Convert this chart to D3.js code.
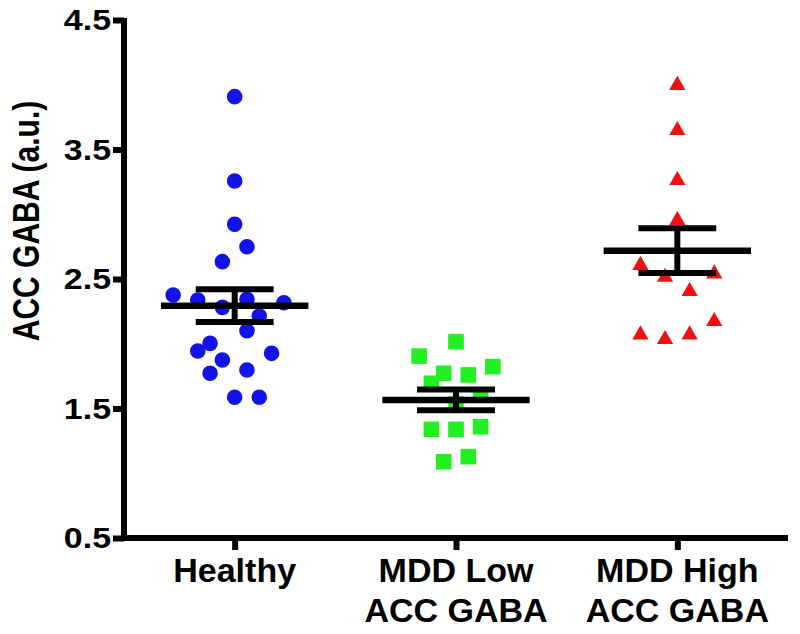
<!DOCTYPE html>
<html>
<head>
<meta charset="utf-8">
<script src="https://cdn.jsdelivr.net/npm/d3@7"></script>
<style>
  html, body { margin: 0; padding: 0; background: #fff; }
  svg { display: block; }
  text { font-family: "Liberation Sans", Arial, Helvetica, sans-serif; font-weight: bold; fill: #000; }
</style>
</head>
<body>
<svg id="chart" width="800" height="634"></svg>
<script>
// ---------------- data ----------------
const categories = ["Healthy", "MDD Low ACC GABA", "MDD High ACC GABA"];
const categoryLines = [["Healthy"], ["MDD Low", "ACC GABA"], ["MDD High", "ACC GABA"]];

const healthyValues = [3.908, 3.257, 2.922, 2.749, 2.634, 2.376, 2.338, 2.343, 2.317, 2.281,
                       2.214, 2.101, 2.003, 1.944, 1.875, 1.926, 1.772, 1.797, 1.587, 1.587];
const healthySlots  = [0, 0, 0, 1, -1, -5, -3, 1, 4, -1,
                       2, 1, -2, -3, -1, 3, -2, 1, 0, 2];

const lowValues = [2.016, 1.905, 1.823, 1.772, 1.759, 1.695, 1.604, 1.535, 1.339, 1.339, 1.359, 1.089, 1.128];
const lowSlots  = [0, -3, 3, -1, 1, -2, 2, 0, -2, 0, 2, -1, 1];

const highValues = [3.996, 3.648, 3.262, 2.953, 2.606, 2.515, 2.541, 2.405, 2.173, 2.070, 2.034, 2.070];
const highSlots  = [0, 0, 0, 0, -3, -1, 3, 1, 3, -3, -1, 1];

const groupMeans = [2.294, 1.566, 2.719];
const groupSEM   = [0.127, 0.080, 0.173];

const yTickValues = [0.5, 1.5, 2.5, 3.5, 4.5];
const yTickLabels = ["0.5", "1.5", "2.5", "3.5", "4.5"];
const yLabel = "ACC GABA (a.u.)";

// ---------------- layout ----------------
const svg = d3.select("#chart");
const plotLeft = 124, plotRight = 788, plotTop = 20, plotBottom = 538;

const y = d3.scaleLinear().domain([0.5, 4.5]).range([plotBottom, plotTop]);
const x = d3.scalePoint().domain(categories).range([plotLeft, plotRight]).padding(0.5);

const slotWidth = 12.3;
const groups = [
  { cat: categories[0], values: healthyValues, slots: healthySlots, color: "#1212ea", symbol: d3.symbolCircle, size: Math.PI * 7.8 * 7.8 },
  { cat: categories[1], values: lowValues, slots: lowSlots, color: "#22f022", symbol: d3.symbolSquare, size: 15.6 * 15.6 },
  { cat: categories[2], values: highValues, slots: highSlots, color: "#ee1111", symbol: d3.symbolTriangle, size: 115 }
];

// points
groups.forEach(g => {
  const pts = g.values.map((v, i) => ({ v, s: g.slots[i] }));
  svg.append("g").selectAll("path").data(pts).join("path")
    .attr("d", d3.symbol().type(g.symbol).size(g.size))
    .attr("transform", d => `translate(${x(g.cat) + d.s * slotWidth},${y(d.v)})`)
    .attr("fill", g.color);
});

// mean +/- SEM
const step = x.step();
const eb = svg.append("g").attr("stroke", "#000").attr("fill", "none");
categories.forEach((c, i) => {
  const cx = x(c), m = groupMeans[i], s = groupSEM[i];
  eb.append("line").attr("x1", cx - step * 0.333).attr("x2", cx + step * 0.333)
    .attr("y1", y(m)).attr("y2", y(m)).attr("stroke-width", 6.5);
  eb.append("line").attr("x1", cx - step * 0.176).attr("x2", cx + step * 0.176)
    .attr("y1", y(m + s)).attr("y2", y(m + s)).attr("stroke-width", 6);
  eb.append("line").attr("x1", cx - step * 0.176).attr("x2", cx + step * 0.176)
    .attr("y1", y(m - s)).attr("y2", y(m - s)).attr("stroke-width", 6);
  eb.append("line").attr("x1", cx).attr("x2", cx)
    .attr("y1", y(m + s)).attr("y2", y(m - s)).attr("stroke-width", 6);
});

// y axis
const yAxis = svg.append("g").attr("transform", `translate(${plotLeft},0)`)
  .call(d3.axisLeft(y).tickValues(yTickValues).tickSize(11).tickSizeOuter(0).tickFormat(""));
yAxis.selectAll("path,line").attr("stroke", "#000").attr("stroke-width", 6);
yAxis.select(".domain").attr("d", `M0,${plotTop - 2}V${plotBottom + 3}`);

// x axis
const xAxis = svg.append("g").attr("transform", `translate(0,${plotBottom})`)
  .call(d3.axisBottom(x).tickSize(12).tickSizeOuter(0).tickFormat(""));
xAxis.selectAll("path,line").attr("stroke", "#000").attr("stroke-width", 6);
xAxis.select(".domain").attr("d", `M${plotLeft - 3},0H${plotRight}`);

// y tick labels
svg.append("g").selectAll("text").data(yTickValues).join("text")
  .attr("transform", d => `translate(111,${y(d)}) scale(1.17,1)`)
  .attr("text-anchor", "end").attr("dy", "0.36em")
  .style("font-size", "29px")
  .text((d, i) => yTickLabels[i]);

// x tick labels
categories.forEach((c, i) => {
  const t = svg.append("text").attr("text-anchor", "middle").style("font-size", "34px");
  categoryLines[i].forEach((ln, j) => {
    t.append("tspan").attr("x", x(c)).attr("y", 582 + j * 40).text(ln);
  });
});

// y label
svg.append("text")
  .attr("transform", "translate(39,221) rotate(-90) scale(1,1.22)")
  .attr("text-anchor", "middle")
  .style("font-size", "30px")
  .text(yLabel);
</script>
</body>
</html>
